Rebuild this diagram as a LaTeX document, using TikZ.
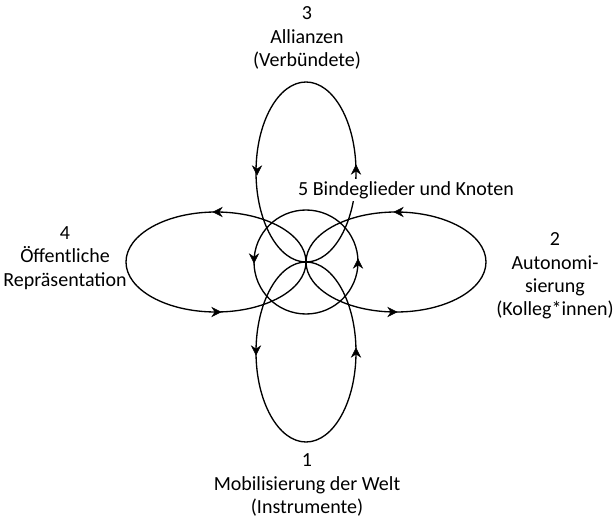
\documentclass[tikz,border=0pt]{standalone}
\usepackage{fontspec}
\setmainfont{Carlito}

\tikzset{every picture/.style={line width=0.75pt}}
\tikzset{
  loopline/.style={line width=1pt},
  headfill/.style={fill=black, draw=black, line width=0.4pt},
  lbl/.style={font=\fontsize{15}{17.6}\selectfont, align=center}
}

\begin{document}
\begin{tikzpicture}[x=0.75pt,y=0.75pt,yscale=-1,xscale=1]
        \useasboundingbox (0,0) rectangle (614,517);

        % Loops
        \draw [loopline] (306,172) ellipse [x radius=50, y radius=90] ;
        \draw [loopline] (306,352) ellipse [x radius=50, y radius=90] ;
        \draw [loopline] (216,262) ellipse [x radius=90, y radius=50] ;
        \draw [loopline] (396,262) ellipse [x radius=90, y radius=50] ;

        % Knot circle
        \draw [loopline] (306,262) circle [radius=52] ;

        % Arrow heads
        \draw [shift={(257,175)}, rotate=-90] [headfill] (0,0) -- (9,-4.5) -- (6,0) -- (9,4.5) -- cycle ;
        \draw [shift={(356,165)}, rotate=90] [headfill] (0,0) -- (9,-4.5) -- (6,0) -- (9,4.5) -- cycle ;
        \draw [shift={(256,355)}, rotate=-90] [headfill] (0,0) -- (9,-4.5) -- (6,0) -- (9,4.5) -- cycle ;
        \draw [shift={(356,348)}, rotate=90] [headfill] (0,0) -- (9,-4.5) -- (6,0) -- (9,4.5) -- cycle ;
        \draw [shift={(213,212)}, rotate=0] [headfill] (0,0) -- (9,-4.5) -- (6,0) -- (9,4.5) -- cycle ;
        \draw [shift={(221,312)}, rotate=180] [headfill] (0,0) -- (9,-4.5) -- (6,0) -- (9,4.5) -- cycle ;
        \draw [shift={(394,212)}, rotate=0] [headfill] (0,0) -- (9,-4.5) -- (6,0) -- (9,4.5) -- cycle ;
        \draw [shift={(397,312)}, rotate=180] [headfill] (0,0) -- (9,-4.5) -- (6,0) -- (9,4.5) -- cycle ;
        \draw [shift={(254,263)}, rotate=-90] [headfill] (0,0) -- (9,-4.5) -- (6,0) -- (9,4.5) -- cycle ;
        \draw [shift={(358,259)}, rotate=90] [headfill] (0,0) -- (9,-4.5) -- (6,0) -- (9,4.5) -- cycle ;

        % Labels
        \node [lbl] (alli) at (307,38) {3\\Allianzen\\(Verbündete)};
        \node [lbl] (repr) at (65,258) {4\\Öffentliche\\Repräsentation};
        \node [lbl] (auto) at (555,276) {2\\Autonomi-\\sierung\\(Kolleg*innen)};
        \node [lbl] (mobi) at (307,485) {1\\Mobilisierung der Welt\\(Instrumente)};
        \node [lbl, fill=white, inner sep=1.5pt] (bind) at (406,190) {5 Bindeglieder und Knoten};

    \end{tikzpicture}
\end{document}
